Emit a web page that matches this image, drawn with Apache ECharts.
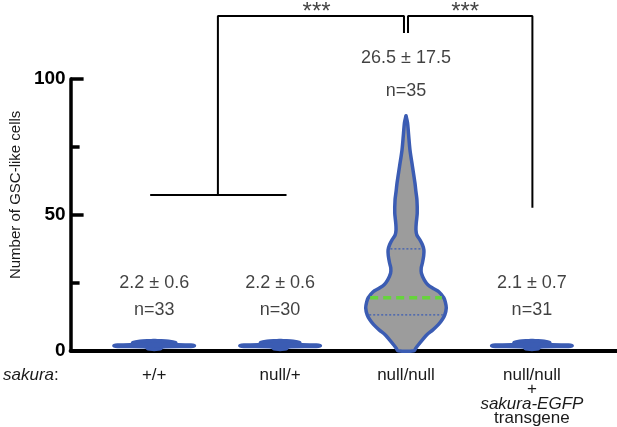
<!DOCTYPE html>
<html>
<head>
<meta charset="utf-8">
<script src="https://cdn.jsdelivr.net/npm/echarts@6/dist/echarts.min.js"></script>
<style>
html, body { margin: 0; padding: 0; background: #fff; }
#main { width: 617px; height: 427px; }
</style>
</head>
<body>
<div id="main"></div>
<script>
// genotype groups (x position = index + 1)
var xPos = [1, 2, 3, 4];
var xLabels = ['+/+', 'null/+', 'null/null', 'null/null\n+\n{i|sakura-EGFP}\ntransgene'];
var meanSd = ['2.2 ± 0.6', '2.2 ± 0.6', '26.5 ± 17.5', '2.1 ± 0.7'];
var nCounts = ['n=33', 'n=30', 'n=35', 'n=31'];

// violin outlines: [cells, relative density]
var profWT = [[0.5, 0], [0.7, 6], [1.4, 8], [1.6, 36], [1.85, 39.5], [2.1, 36], [2.3, 22], [3.0, 21], [3.5, 14], [3.7, 3], [3.8, 0]];
var profHet = [[0.5, 0], [0.7, 6], [1.4, 8], [1.6, 36], [1.85, 40], [2.1, 36], [2.3, 20], [3.0, 19.5], [3.5, 13], [3.7, 3], [3.8, 0]];
var profNull = [[0, 8], [1, 10], [2.2, 12.5], [4, 16.5], [5.9, 21], [7.7, 27], [9.6, 32.5], [11.5, 36.5],
  [13.2, 39], [15.8, 40.5], [18, 39.5], [19.5, 38], [21.7, 33], [23, 27], [24.3, 22], [26, 18.5],
  [28.5, 15.5], [30.5, 15.3], [32.3, 16.5], [35, 17.8], [37.1, 18], [39, 16.5], [40.8, 14], [42.5, 11],
  [44.5, 10], [47, 10.3], [50.7, 11.3], [55.5, 11], [58.5, 10], [61.7, 9], [67.8, 6.5], [73.9, 4],
  [80, 2.5], [84, 1.5], [86.5, 0]];
var profRescue = [[0.5, 0], [0.7, 6], [1.4, 8], [1.6, 36], [1.85, 39.5], [2.1, 36], [2.3, 18], [3.0, 17.5], [3.5, 12], [3.7, 3], [3.8, 0]];
var profiles = [profWT, profHet, profNull, profRescue];

// quartiles of null/null: q1, median, q3
var quartNull = [13.2, 19.5, 37.5];
var quartiles = [null, null, quartNull, null];

// significance brackets
var bracketLow = [[0.968, 57.35], [2.051, 57.35]];
var bracketLeft = [[1.506, 57.35], [1.506, 123.2], [2.984, 123.2], [2.984, 116.9]];
var bracketRight = [[3.016, 116.9], [3.016, 123.2], [4.004, 123.2], [4.004, 52.6]];
var stars = [[2.29, 124.6, '***'], [3.47, 124.6, '***']];

var font = '"Liberation Sans", Arial, Helvetica, sans-serif';
var blue = '#3b5cb3';
var halfWidth = 0.32; // widest violin half width, in x units

function densityAt(prof, v) {
  for (var k = 1; k < prof.length; k++) {
    if (v <= prof[k][0]) {
      var a = prof[k - 1], b = prof[k];
      return a[1] + (b[1] - a[1]) * (v - a[0]) / (b[0] - a[0]);
    }
  }
  return 0;
}

function renderViolin(params, api) {
  var i = params.dataIndex;
  var prof = profiles[i];
  var pos = api.value(0);
  var dmax = 0;
  prof.forEach(function (p) { dmax = Math.max(dmax, p[1]); });
  var unit = api.size([1, 0])[0];
  var cx = api.coord([pos, 0])[0];
  var right = [], left = [];
  prof.forEach(function (p) {
    var y = api.coord([pos, p[0]])[1];
    var w = p[1] / dmax * halfWidth * unit;
    right.push([cx + w, y]);
    left.unshift([cx - w, y]);
  });
  // flat violins are drawn as solid blue shapes
  var flat = prof[prof.length - 1][0] < 10;
  var children = [{
    type: 'polygon',
    shape: { points: right.concat(left), smooth: 0.3 },
    style: { fill: flat ? blue : '#9c9c9c', stroke: blue, lineWidth: 3.5, lineJoin: 'round' }
  }];
  var q = quartiles[i];
  if (q) {
    q.forEach(function (v, k) {
      var y = api.coord([pos, v])[1];
      var w = densityAt(prof, v) / dmax * halfWidth * unit - 2;
      children.push({
        type: 'line',
        shape: { x1: cx - w, y1: y, x2: cx + w, y2: y },
        style: k === 1
          ? { stroke: '#66d43c', lineWidth: 3.5, lineDash: [8, 5] }
          : { stroke: blue, lineWidth: 1.2, lineDash: [2, 2] }
      });
    });
  }
  return { type: 'group', children: children };
}

function bracket(data) {
  return {
    type: 'line', data: data, symbol: 'none', clip: false, silent: true,
    lineStyle: { color: '#000', width: 2 }
  };
}

function textSeries(data, size) {
  return {
    type: 'scatter',
    symbolSize: 1,
    clip: false,
    silent: true,
    itemStyle: { color: 'transparent' },
    data: data,
    label: {
      show: true, position: 'inside', formatter: function (p) { return p.data[2]; },
      fontSize: size, color: '#111', textBorderWidth: 0, fontFamily: font
    }
  };
}

var statData = [];
xPos.forEach(function (x, i) {
  var big = i === 2;
  statData.push([x, big ? 107.9 : 25.0, meanSd[i]]);
  statData.push([x, big ? 95.4 : 15.1, nCounts[i]]);
});

var chart = echarts.init(document.getElementById('main'));
var option = {
  animation: false,
  grid: { left: 68, right: 0, top: 79, bottom: 76 },
  xAxis: {
    type: 'value',
    min: 0.336,
    max: 4.676,
    axisLine: { show: true, onZero: false, lineStyle: { color: '#000', width: 4 } },
    axisTick: { show: false },
    splitLine: { show: false },
    axisLabel: {
      customValues: xPos,
      formatter: function (v) { return xLabels[Math.round(v) - 1]; },
      margin: 17,
      fontSize: 17,
      lineHeight: 14.5,
      color: '#1a1a1a',
      fontFamily: font,
      rich: { i: { fontStyle: 'italic', fontSize: 17, lineHeight: 14.5, color: '#1a1a1a', fontFamily: font } }
    }
  },
  yAxis: {
    type: 'value',
    min: 0,
    max: 100,
    interval: 50,
    axisLine: { show: true, lineStyle: { color: '#000', width: 3.5 } },
    axisTick: { show: true, inside: true, length: 13, lineStyle: { color: '#000', width: 3.5 } },
    minorTick: { show: true, splitNumber: 2, length: 9, lineStyle: { color: '#000', width: 3.5 } },
    splitLine: { show: false },
    axisLabel: { color: '#000', fontWeight: 'bold', fontSize: 19, margin: 5, fontFamily: font },
    name: 'Number of GSC-like cells',
    nameLocation: 'middle',
    nameGap: 44,
    nameTextStyle: { fontSize: 15, color: '#1a1a1a', fontFamily: font, padding: [0, 0, 0, 40] }
  },
  series: [
    {
      type: 'custom',
      renderItem: renderViolin,
      clip: false,
      data: xPos.map(function (x) { return [x, 0]; }),
      encode: { x: 0, y: 1 }
    },
    bracket(bracketLow),
    bracket(bracketLeft),
    bracket(bracketRight),
    textSeries(statData, 18),
    textSeries(stars, 24)
  ],
  graphic: [{
    type: 'text',
    left: 3,
    top: 367,
    style: {
      text: '{i|sakura}:',
      fontSize: 17,
      fill: '#1a1a1a',
      fontFamily: font,
      rich: { i: { fontStyle: 'italic', fontSize: 17, fill: '#1a1a1a', fontFamily: font } }
    }
  }]
};
chart.setOption(option);
</script>
</body>
</html>
